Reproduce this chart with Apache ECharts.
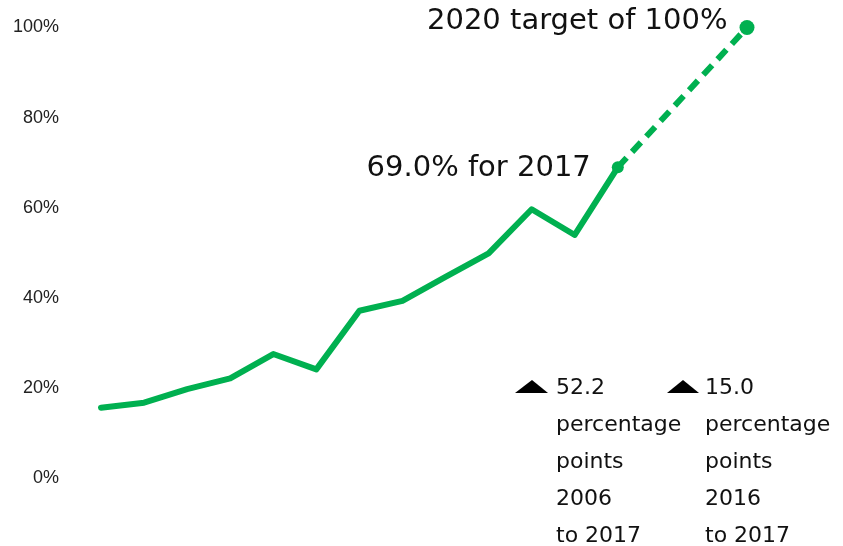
<!DOCTYPE html>
<html>
<head>
<meta charset="utf-8">
<script src="https://cdn.jsdelivr.net/npm/echarts@6/dist/echarts.min.js"></script>
<style>
  html, body { margin: 0; padding: 0; background: #fff; }
  #chart { width: 843px; height: 546px; }
</style>
</head>
<body>
<div id="chart"></div>
<script>
// actual shares by year
const years = [2005, 2006, 2007, 2008, 2009, 2010, 2011, 2012, 2013, 2014, 2015, 2016, 2017];
const shares = [15.7, 16.8, 19.8, 22.2, 27.6, 24.2, 37.2, 39.4, 44.7, 49.9, 59.7, 54.0, 69.0];
// projection towards target
const targetYears = [2017, 2020];
const targetShares = [69.0, 100];
const targetLabels = ['69.0% for 2017', '2020 target of 100%'];
const yTicks = [0, 20, 40, 60, 80, 100];

const green = '#00b050';
const font = '"DejaVu Sans", sans-serif';

const chart = echarts.init(document.getElementById('chart'));

const option = {
  animation: false,
  grid: { left: 101, right: 96, top: 27.5, bottom: 67.5, containLabel: false },
  xAxis: {
    type: 'value',
    min: 2005,
    max: 2020,
    show: false
  },
  yAxis: {
    type: 'value',
    min: yTicks[0],
    max: yTicks[yTicks.length - 1],
    interval: 20,
    axisLine: { show: false },
    axisTick: { show: false },
    splitLine: { show: false },
    axisLabel: {
      formatter: '{value}%',
      color: '#222',
      fontSize: 18,
      fontFamily: 'Liberation Sans, sans-serif',
      margin: 42,
      padding: [8, 0, 0, 0]
    }
  },
  series: [
    {
      type: 'line',
      data: years.map((y, i) => [y, shares[i]]),
      showSymbol: false,
      lineStyle: { color: green, width: 6, cap: 'round', join: 'round' },
      z: 2
    },
    {
      type: 'line',
      clip: false,
      data: targetYears.map((y, i) => ({
        value: [y, targetShares[i]],
        symbolSize: i === 0 ? 12 : 15,
        label: {
          show: true,
          position: 'left',
          distance: i === 0 ? 21 : 12,
          offset: i === 0 ? [0, 1] : [0, -6],
          formatter: targetLabels[i],
          color: '#111',
          fontSize: 29,
          fontFamily: font
        }
      })),
      symbol: 'circle',
      itemStyle: { color: green },
      lineStyle: { color: green, width: 6, type: [13, 8] },
      z: 3
    }
  ],
  graphic: [
    { type: 'polygon', shape: { points: [[515, 393], [532, 380], [548, 393]] }, style: { fill: '#000' } },
    { type: 'polygon', shape: { points: [[667, 393], [683, 380], [699, 393]] }, style: { fill: '#000' } },
    {
      type: 'text', left: 556, top: 370,
      style: { text: '52.2\npercentage\npoints\n2006\nto 2017', fill: '#111', font: '22px ' + font, lineHeight: 37 }
    },
    {
      type: 'text', left: 705, top: 370,
      style: { text: '15.0\npercentage\npoints\n2016\nto 2017', fill: '#111', font: '22px ' + font, lineHeight: 37 }
    }
  ]
};

chart.setOption(option);
</script>
</body>
</html>
